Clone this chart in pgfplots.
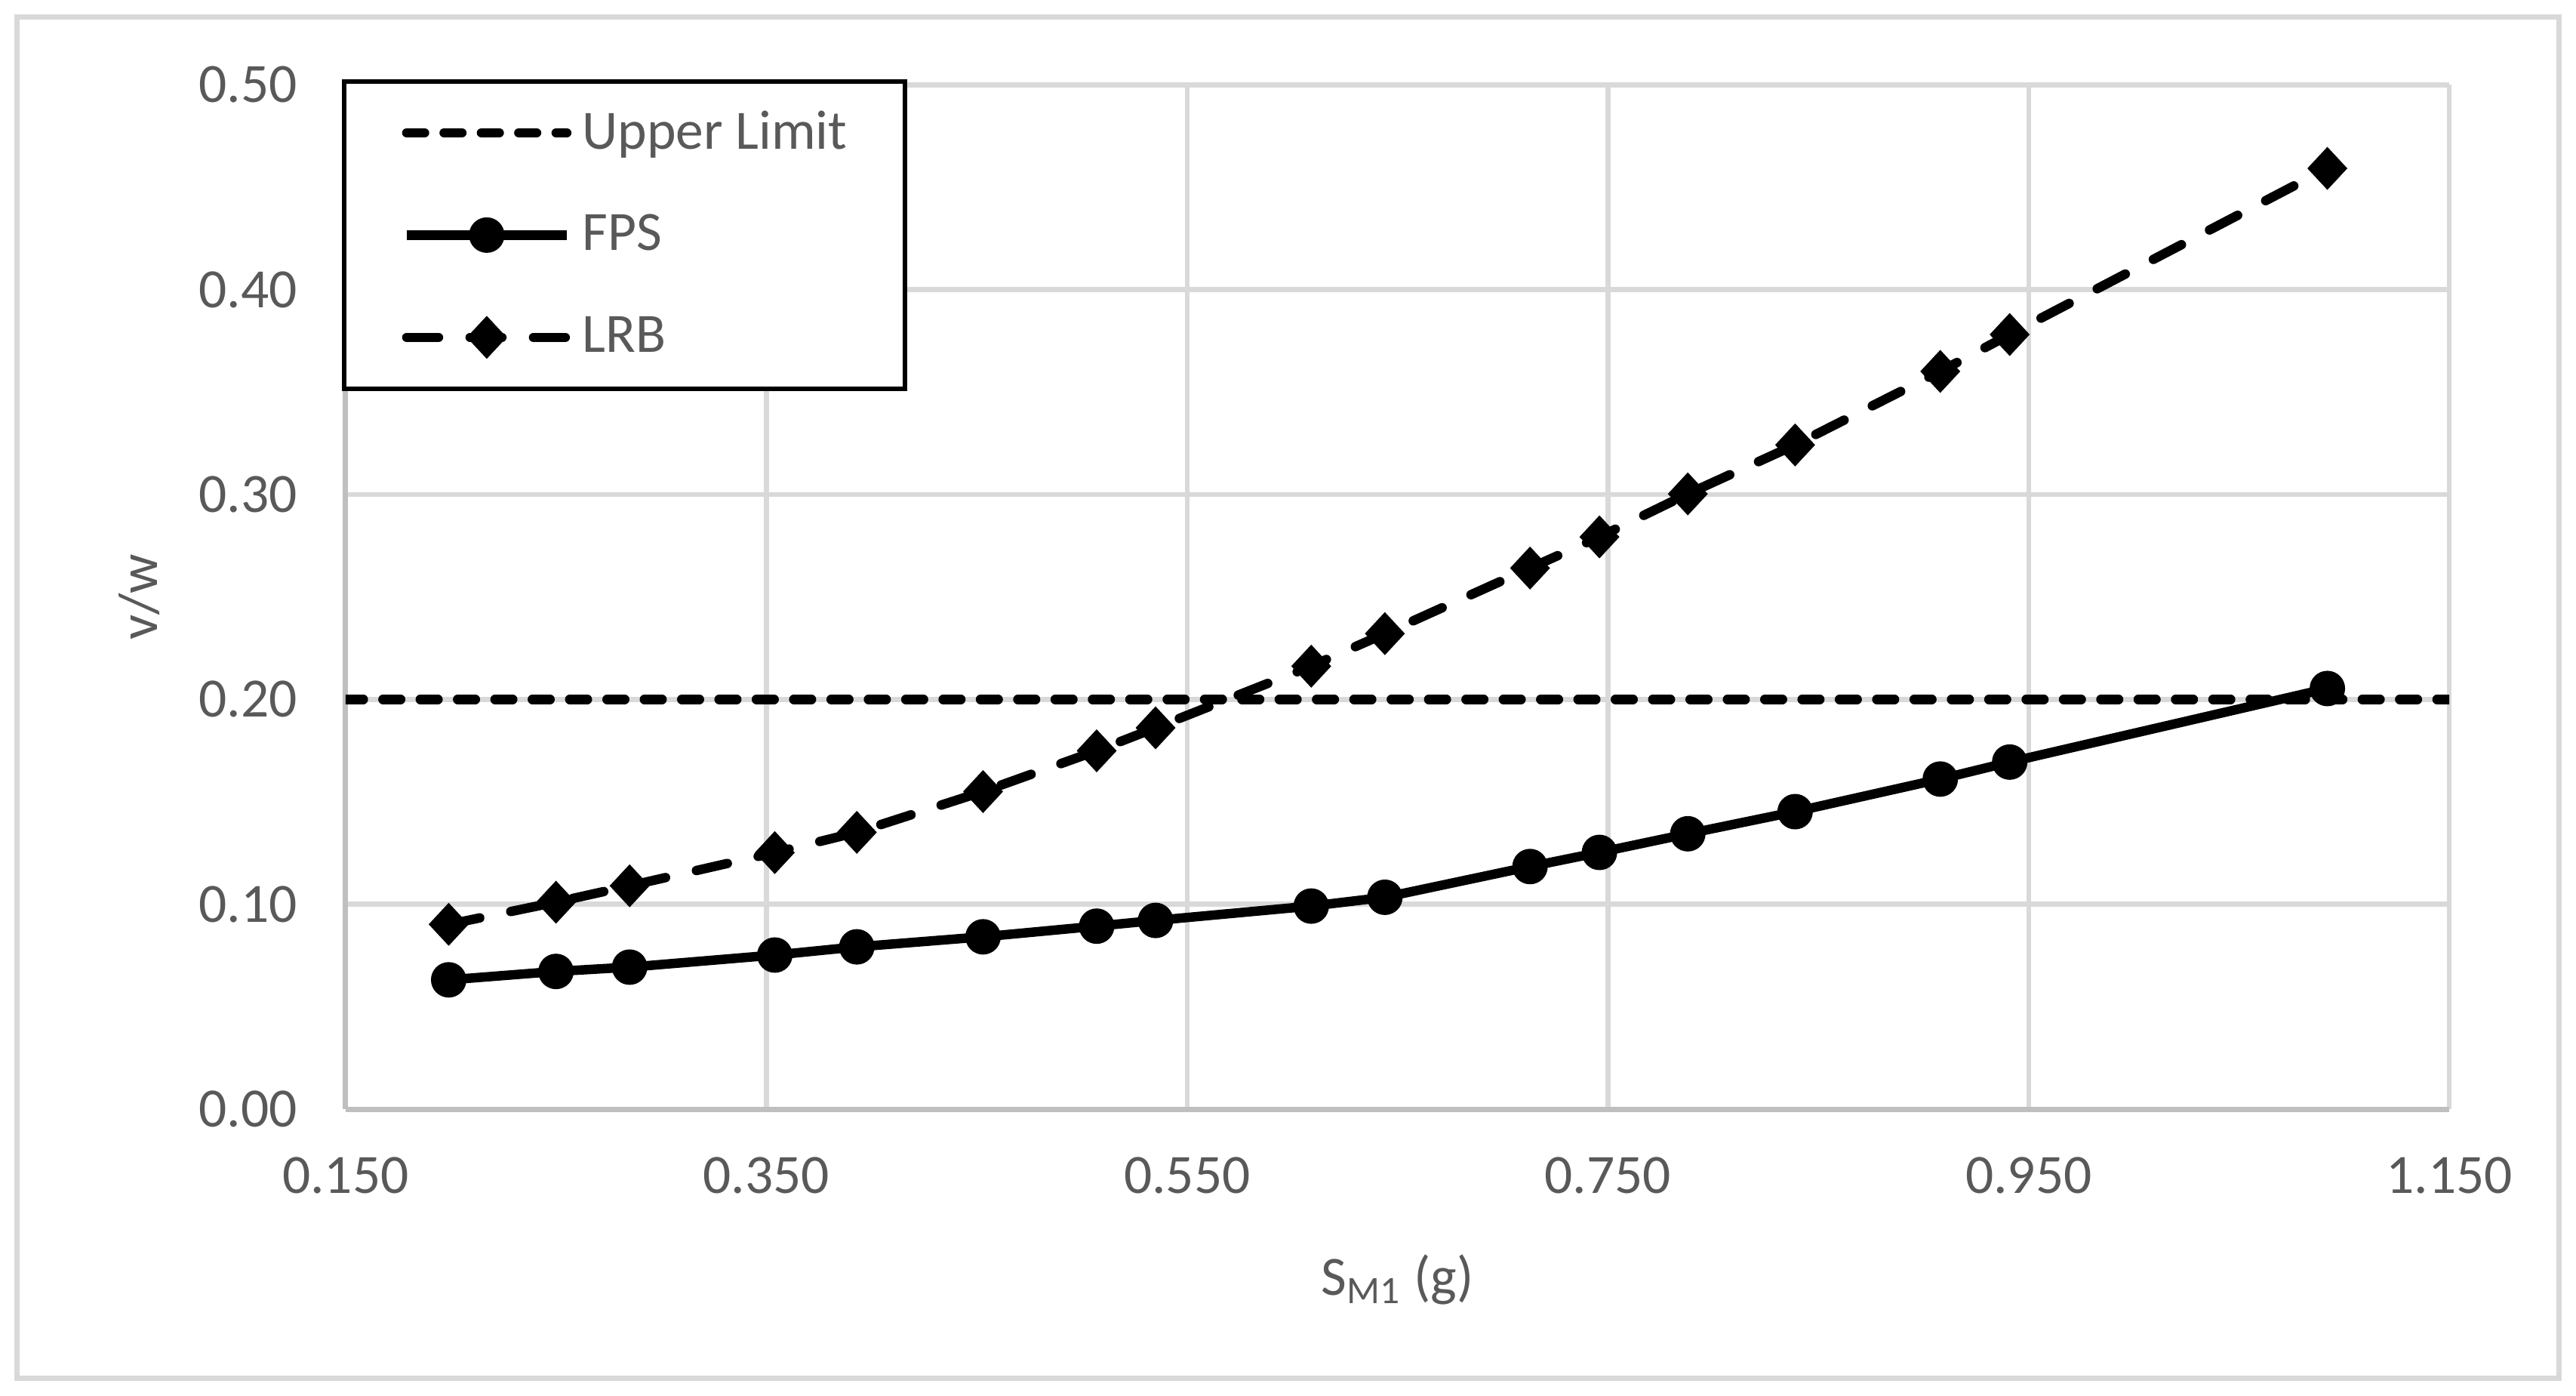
\documentclass[border=0pt]{standalone}
\usepackage{fontspec}
\setmainfont{Carlito}
\usepackage{pgfplots}
\pgfplotsset{compat=1.18}
\definecolor{gridgray}{RGB}{217,217,217}
\definecolor{axisgray}{RGB}{191,191,191}
\definecolor{labelgray}{RGB}{89,89,89}
\newcommand{\chartfont}{\fontsize{14.7}{17.6}\selectfont}

\begin{document}
\begin{tikzpicture}
\useasboundingbox (-3.22,-2.67) rectangle (20.78,10.33);
\draw[gridgray, line width=1.4pt] (-3.06,-2.51) rectangle (20.62,10.17);
\begin{axis}[
  at={(0,0)}, anchor=south west,
  width=19.6cm, height=9.54cm, scale only axis,
  xmin=0.15, xmax=1.15, ymin=0, ymax=0.5,
  xtick={0.15,0.35,0.55,0.75,0.95,1.15},
  ytick={0,0.1,0.2,0.3,0.4,0.5},
  major tick length=0pt,
  axis lines*=left,
  axis line style={draw=axisgray, line width=1.4pt, -},
  grid=major,
  major grid style={draw=gridgray, line width=1.3pt},
  /pgf/number format/assume math mode=true,
  tick label style={font=\chartfont, text=labelgray},
  x tick label style={/pgf/number format/.cd, fixed, fixed zerofill, precision=3, /tikz/.cd, yshift=-9.3pt},
  y tick label style={/pgf/number format/.cd, fixed, fixed zerofill, precision=2, /tikz/.cd, xshift=-9.3pt},
  xlabel={S\textsubscript{M1} (g)},
  ylabel={v/w},
  label style={font=\chartfont, text=labelgray},
  xlabel style={at={(axis description cs:0.5,-0.1667)}, anchor=center},
  ylabel style={at={(axis description cs:-0.098,0.5)}, anchor=center},
  legend style={at={(axis description cs:0,1)}, anchor=north west,
    xshift=-0.035cm, yshift=0.05cm,
    draw=black, line width=1.2pt, fill=white,
    font=\chartfont, text=labelgray,
    inner xsep=0.54cm, inner ysep=0pt, row sep=0pt,
    nodes={inner sep=0pt},
    /tikz/every odd column/.append style={column sep=0.10cm}},
  legend cell align=left,
  legend image code/.code={\path (0cm,12.3pt) (0cm,-12.3pt);\draw[mark repeat=2, mark phase=2, #1] plot coordinates {(0cm,0cm) (0.745cm,0cm) (1.49cm,0cm)};},
]
\addplot[black, line width=2.5pt, line cap=round, dash pattern=on 4.7pt off 5.2pt]
  coordinates {(0.15,0.2) (1.15,0.2)};
\addlegendentry{Upper Limit}

\addplot[black, line width=2.5pt, line join=round, mark=*, mark size=4.5pt, mark options={solid, line width=0.4pt}]
  coordinates {
  (0.199,0.0631) (0.250,0.0672) (0.285,0.0693) (0.354,0.0752) (0.393,0.0792)
  (0.453,0.0841) (0.507,0.0893) (0.535,0.0921) (0.609,0.0991) (0.644,0.1034)
  (0.713,0.1184) (0.746,0.1253) (0.788,0.1344) (0.839,0.1452) (0.908,0.1611)
  (0.941,0.1694) (1.092,0.2053)
  };
\addlegendentry{FPS}

\addplot[black, line width=2.5pt, line cap=round, dash pattern=on 8.4pt off 8.4pt, mark=diamond*, mark size=5.4pt, mark options={solid, line width=0.4pt, xscale=1.24}]
  coordinates {
  (0.199,0.0902) (0.250,0.1010) (0.285,0.1090) (0.354,0.1252) (0.393,0.1351)
  (0.453,0.1550) (0.507,0.1749) (0.535,0.1861) (0.609,0.2162) (0.644,0.2321)
  (0.713,0.2641) (0.746,0.2793) (0.788,0.3003) (0.839,0.3242) (0.908,0.3601)
  (0.941,0.3781) (1.092,0.4592)
  };
\addlegendentry{LRB}
\end{axis}
\end{tikzpicture}
\end{document}
